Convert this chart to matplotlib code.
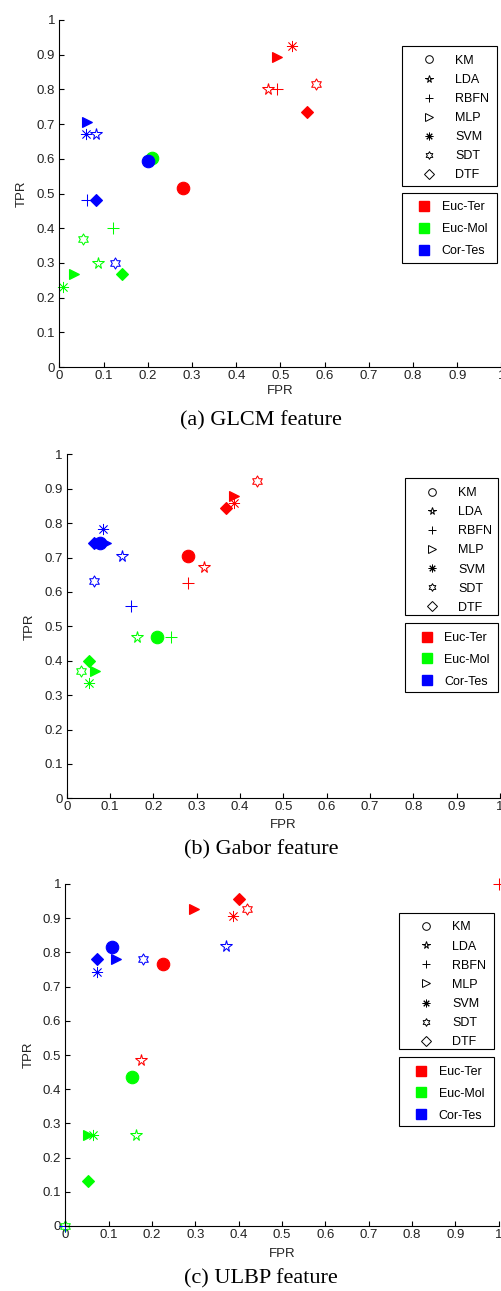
import matplotlib
matplotlib.use('Agg')
import matplotlib.pyplot as plt
from matplotlib.lines import Line2D
from matplotlib.patches import Rectangle
from matplotlib.path import Path

plt.rcParams['font.family'] = ['Liberation Sans', 'DejaVu Sans']

methods = ['KM', 'LDA', 'RBFN', 'MLP', 'SVM', 'SDT', 'DTF']
groups = ['Euc-Ter', 'Euc-Mol', 'Cor-Tes']
group_colors = ['#ff0000', '#00ff00', '#0000ff']
ticks = [0, 0.1, 0.2, 0.3, 0.4, 0.5, 0.6, 0.7, 0.8, 0.9, 1]
tick_labels = ['0', '0.1', '0.2', '0.3', '0.4', '0.5', '0.6', '0.7', '0.8', '0.9', '1']
captions = ['(a) GLCM feature', '(b) Gabor feature', '(c) ULBP feature']

# values per method, same order as `methods`
# (a) GLCM
glcm_ter_fpr = [0.28, 0.472, 0.492, 0.492, 0.526, 0.58, 0.56]
glcm_ter_tpr = [0.517, 0.80, 0.80, 0.893, 0.925, 0.815, 0.735]
glcm_mol_fpr = [0.209, 0.086, 0.12, 0.033, 0.009, 0.053, 0.142]
glcm_mol_tpr = [0.603, 0.30, 0.40, 0.268, 0.231, 0.368, 0.267]
glcm_tes_fpr = [0.200, 0.082, 0.062, 0.062, 0.06, 0.126, 0.082]
glcm_tes_tpr = [0.594, 0.671, 0.481, 0.705, 0.671, 0.299, 0.481]

# (b) Gabor
gabor_ter_fpr = [0.281, 0.316, 0.281, 0.387, 0.387, 0.439, 0.367]
gabor_ter_tpr = [0.704, 0.673, 0.625, 0.879, 0.859, 0.923, 0.843]
gabor_mol_fpr = [0.209, 0.162, 0.241, 0.065, 0.052, 0.032, 0.052]
gabor_mol_tpr = [0.469, 0.469, 0.469, 0.37, 0.334, 0.37, 0.40]
gabor_tes_fpr = [0.078, 0.127, 0.148, 0.09, 0.083, 0.063, 0.062]
gabor_tes_tpr = [0.741, 0.704, 0.559, 0.741, 0.782, 0.632, 0.741]

# (c) ULBP
ulbp_ter_fpr = [0.226, 0.174, 1.0, 0.296, 0.386, 0.419, 0.401]
ulbp_ter_tpr = [0.765, 0.485, 1.0, 0.926, 0.906, 0.926, 0.955]
ulbp_mol_fpr = [0.153, 0.163, 0.0, 0.053, 0.065, 0.0, 0.052]
ulbp_mol_tpr = [0.435, 0.267, 0.0, 0.267, 0.267, 0.0, 0.131]
ulbp_tes_fpr = [0.107, 0.37, 0.0, 0.116, 0.074, 0.18, 0.072]
ulbp_tes_tpr = [0.817, 0.819, 0.0, 0.78, 0.742, 0.78, 0.78]

panel_data = [
    [(glcm_ter_fpr, glcm_ter_tpr), (glcm_mol_fpr, glcm_mol_tpr), (glcm_tes_fpr, glcm_tes_tpr)],
    [(gabor_ter_fpr, gabor_ter_tpr), (gabor_mol_fpr, gabor_mol_tpr), (gabor_tes_fpr, gabor_tes_tpr)],
    [(ulbp_ter_fpr, ulbp_ter_tpr), (ulbp_mol_fpr, ulbp_mol_tpr), (ulbp_tes_fpr, ulbp_tes_tpr)],
]

hexagram = Path.unit_regular_star(6, 0.577)
markers = ['o', '*', '+', '>', (8, 2, 0), hexagram, 'D']
filled = [True, False, False, True, False, False, True]
msizes = [9, 8.5, 8, 7.5, 8, 8, 6.5]
mwidths = [0.8, 0.75, 0.75, 0.8, 0.55, 0.75, 0.8]

W, H = 502, 1291

def fx(px):
    return px / W

def fy(py):
    return 1 - py / H

# pixel layout: axes (left, top, right, bottom), legend boxes, label / caption positions
axes_px = [(59.5, 20, 501.5, 367), (66.7, 454.3, 500, 798.3), (65.3, 884, 498.7, 1226)]
mark_box = [(402.3, 46, 497.3, 185.7), (405, 478.3, 498.3, 615), (399.3, 912.7, 494, 1049)]
col_box = [(402.3, 192.7, 497.3, 263.3), (405, 623.3, 498.3, 691.7), (399.3, 1057.3, 494, 1126)]
ylab_x = [21.7, 29.3, 28.3]
xlab_y = [391, 825, 1254]
cap_y = [421, 850, 1279]

fig = plt.figure(figsize=(W / 100, H / 100), dpi=100)

for p in range(3):
    l, t, r, b = axes_px[p]
    ax = fig.add_axes([fx(l), fy(b), (r - l) / W, (b - t) / H])
    for g in range(3):
        xs, ys = panel_data[p][g]
        c = group_colors[g]
        for m in range(len(methods)):
            ax.plot(xs[m], ys[m], ls='none', marker=markers[m], ms=msizes[m],
                    color=c, mfc=c if filled[m] else 'none', mec=c,
                    mew=mwidths[m], clip_on=False)
    ax.set_xlim(0, 1)
    ax.set_ylim(0, 1)
    ax.set_xticks(ticks)
    ax.set_xticklabels(tick_labels)
    ax.set_yticks(ticks)
    ax.set_yticklabels(tick_labels)
    ax.spines['top'].set_visible(False)
    ax.spines['right'].set_visible(False)
    ax.spines['left'].set_linewidth(0.8)
    ax.spines['bottom'].set_linewidth(0.8)
    ax.tick_params(direction='in', length=3.5, width=0.8, labelsize=9.5,
                   labelcolor='#222222')
    ax.tick_params(axis='x', pad=2)
    ax.tick_params(axis='y', pad=3)
    ax.set_xlabel('FPR', fontsize=9.5, color='#222222', va='center')
    ax.set_ylabel('TPR', fontsize=9.5, color='#222222', va='center')
    ax.xaxis.set_label_coords(0.5, (b - xlab_y[p]) / (b - t))
    ax.yaxis.set_label_coords((ylab_x[p] - l) / (r - l), 0.5)

    # method legend (black open markers)
    handles = [Line2D([], [], ls='none', marker=markers[m], color='k', mfc='none',
                      ms=5.5, mew=0.7) for m in range(len(methods))]
    bl, bt, br, bb = mark_box[p]
    fig.add_artist(Rectangle((fx(bl), fy(bb)), (br - bl) / W, (bb - bt) / H,
                             transform=fig.transFigure, fill=False, ec='k', lw=0.8))
    fig.legend(handles, methods, loc='upper left', bbox_to_anchor=(fx(bl), fy(bt)),
               bbox_transform=fig.transFigure, frameon=False, fontsize=9,
               borderaxespad=0, borderpad=0.7, handlelength=2.9,
               handletextpad=0.64, labelspacing=0.57)

    # group legend (colour squares)
    handles = [Line2D([], [], ls='none', marker='s', color=c, ms=6.5) for c in group_colors]
    bl, bt, br, bb = col_box[p]
    fig.add_artist(Rectangle((fx(bl), fy(bb)), (br - bl) / W, (bb - bt) / H,
                             transform=fig.transFigure, fill=False, ec='k', lw=0.8))
    fig.legend(handles, groups, loc='upper left', bbox_to_anchor=(fx(bl), fy(bt)),
               bbox_transform=fig.transFigure, frameon=False, fontsize=9,
               borderaxespad=0, borderpad=0.7, handlelength=2.1,
               handletextpad=0.35, labelspacing=0.78)

    fig.text(fx(261), fy(cap_y[p]), captions[p], ha='center', va='center',
             fontsize=16, family='Liberation Serif')

fig.savefig('out.png', dpi=100)
